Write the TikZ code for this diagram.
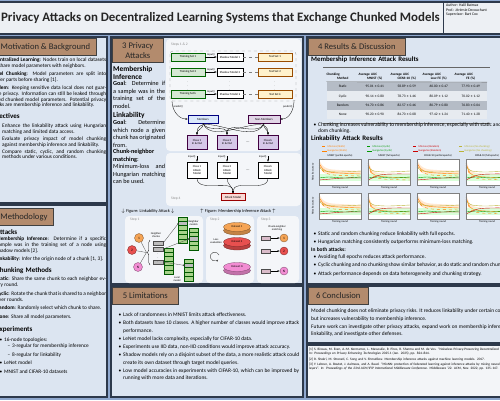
\documentclass[tikz,border=0pt]{standalone}
\usepackage{fontspec}
\setmainfont{Carlito}
\usepackage{enumitem}
\setlist[itemize]{leftmargin=7pt,labelsep=2pt,itemsep=0.8pt,topsep=0pt,parsep=0pt,partopsep=0pt,label=\textbullet}
\usetikzlibrary{matrix,positioning,arrows.meta,shapes.geometric,decorations.pathreplacing}

\definecolor{posterbg}{HTML}{8FA8CF}
\definecolor{panelfill}{HTML}{DCE5F1}
\definecolor{panelline}{HTML}{2D394B}
\definecolor{headbrown}{HTML}{B38B6D}
\definecolor{titlefill}{HTML}{EDF0F4}
\definecolor{figfill}{HTML}{F4F6F9}
\definecolor{trainfill}{HTML}{D5E8D4}
\definecolor{testfill}{HTML}{FFF2CC}
\definecolor{memfill}{HTML}{DAE8FC}
\definecolor{nonmemfill}{HTML}{E1D5E7}
\definecolor{classfill}{HTML}{D6C8E8}
\definecolor{attfill}{HTML}{FAD9D5}
\definecolor{nodeorange}{HTML}{F5A455}
\definecolor{nodered}{HTML}{E8504F}
\definecolor{nodepink}{HTML}{F28DD3}
\definecolor{chunkgreen}{HTML}{A8D38B}
\definecolor{chunkgrey}{HTML}{BDBDBD}
\definecolor{matchfill}{HTML}{D9BBC9}
\definecolor{rowgrey}{HTML}{B5BCC6}
\definecolor{rowlight}{HTML}{E7EBF0}
\definecolor{refill}{HTML}{F3F5F8}

\tikzset{
panel/.style={draw=panelline, fill=panelfill, line width=1.1pt},
header/.style={
  anchor=north west, draw=black!75, fill=headbrown, line width=0.6pt,
  minimum height=17pt, inner xsep=2pt, inner ysep=1pt, align=center,
  font=\fontsize{8.6}{9.6}\selectfont, text=black!85
  },
bodytext/.style={
  anchor=north west, inner sep=0pt, text width=#1, align=justify,
  font=\fontsize{5.3}{5.8}\selectfont
  },
bodytext/.default=117pt,
widetext/.style={
  anchor=north west, inner sep=0pt, text width=#1, align=justify,
  font=\fontsize{5.4}{7.4}\selectfont
  },
widetext/.default=205pt,
colbody/.style={
  anchor=north west, inner sep=0pt, text width=52pt, align=justify,
  font=\fontsize{6.2}{7.5}\selectfont
  },
subhead/.style={
  anchor=north west, inner sep=0pt, text width=#1, align=left,
  font=\bfseries\fontsize{7}{8}\selectfont
  },
subhead/.default=117pt,
tinytext/.style={inner sep=0.3pt, align=center, font=\fontsize{2.7}{3.1}\selectfont},
steplabel/.style={anchor=west, inner sep=0pt, text=black!45, font=\fontsize{3.6}{4}\selectfont},
figbox/.style={inner sep=0.4pt, align=center, font=\fontsize{3}{3.4}\selectfont, minimum height=8pt, line width=0.35pt},
trainset/.style={figbox, draw=green!40!black, fill=trainfill, minimum width=34pt},
testset/.style={figbox, draw=orange!60!black, fill=testfill, minimum width=34pt},
shadowbox/.style={figbox, draw=black, fill=white, minimum width=26pt},
membox/.style={figbox, draw=blue!50!black, fill=memfill, minimum width=30pt},
nonmembox/.style={figbox, draw=violet!50!black, fill=nonmemfill, minimum width=32pt},
classbox/.style={figbox, draw=violet!50!black, fill=classfill, minimum width=20pt, minimum height=14pt},
attbox/.style={figbox, draw=black, fill=white, minimum width=20pt, minimum height=16pt},
finalbox/.style={figbox, draw=red!60!black, fill=attfill, minimum width=24pt, minimum height=7pt},
nodecirc/.style={circle, draw=#1!55!black, fill=#1, minimum size=9pt, inner sep=0pt,
  line width=0.35pt, font=\fontsize{3.5}{4}\selectfont},
modcell/.style={draw=green!35!black, fill=#1, minimum width=9pt, minimum height=4.4pt,
  inner sep=0pt, line width=0.3pt},
modcell/.default=chunkgreen,
chunkbox/.style={draw=black!70, fill=chunkgrey, minimum width=10pt, minimum height=4pt,
  inner sep=0pt, line width=0.3pt},
matchbox/.style={draw=black!70, fill=matchfill, minimum width=9pt, minimum height=4pt,
  inner sep=0pt, line width=0.3pt},
restab/.style={
  matrix of nodes,
  nodes={inner sep=0pt, text width=32.4pt, align=center, minimum height=9.3pt,
    font=\fontsize{3.5}{4}\selectfont},
  column sep=-\pgflinewidth,
  row sep=0pt,
  row 1/.style={nodes={font=\bfseries\fontsize{3.4}{4}\selectfont, minimum height=11pt}},
  row 2/.style={nodes={fill=rowgrey}},
  row 3/.style={nodes={fill=rowlight}},
  row 4/.style={nodes={fill=rowgrey}},
  row 5/.style={nodes={fill=rowlight}}
  }
}

\begin{document}
\begin{tikzpicture}[x=1pt,y=-1pt,>={Latex[length=2.2pt,width=1.8pt]}]
\useasboundingbox (0,0) rectangle (500,400);
\clip (0,0) rectangle (500,400);
\fill[posterbg] (0,0) rectangle (500,400);

% title bar
\draw[panelline, fill=titlefill, line width=1.1pt] (-20,2) rectangle (520,34);
\draw[panelline, line width=0.8pt] (443,2) -- (443,34);
\node[anchor=east, inner sep=0pt, text=black!85, font=\bfseries\fontsize{12.9}{15}\selectfont] (title) at (440,18.5)
  {Privacy Attacks on Decentralized Learning Systems that Exchange Chunked Models};
\node[anchor=north west, inner sep=0pt, align=left, font=\fontsize{3.8}{4.4}\selectfont] (author) at (446,4)
  {Author: Halil Batmaz\\Prof.: Jérémie Decouchant\\Supervisor: Bart Cox};

% panels
\draw[panel] (-20,37) rectangle (107,203);
\draw[panel] (-20,205) rectangle (107,397);
\draw[panel] (111,37) rectangle (303,284);
\draw[panel] (111,286) rectangle (303,397);
\draw[panel] (307,37) rectangle (520,284);
\draw[panel] (307,286) rectangle (520,343);
\draw[panel, fill=refill] (307,345) rectangle (520,397);

% 1 motivation
\node[header, minimum width=108pt] (h1) at (-12,38) {1 Motivation \& Background};
\node[bodytext] (decl) at (-11,58)
  {\textbf{Decentralized Learning}: Nodes train on local datasets and share model parameters with neighbors.};
\node[bodytext, below=3pt of decl] (mchunk)
  {\textbf{Model Chunking}: Model parameters are split into smaller parts before sharing [1].};
\node[bodytext, below=3pt of mchunk] (prob)
  {\textbf{Problem}: Keeping sensitive data local does not guarantee privacy. Information can still be leaked through shared chunked model parameters. Potential privacy attacks are membership inference and linkability.};
\node[subhead, below=5pt of prob] (obj) {Objectives};
\node[bodytext, below=2pt of obj] (objlist)
  {\begin{itemize}[leftmargin=13pt,itemsep=1.2pt]
   \item Enhance the linkability attack using Hungarian matching and limited data access.
   \item Evaluate privacy impact of model chunking against membership inference and linkability.
   \item Compare static, cyclic, and random chunking methods under various conditions.
   \end{itemize}};

% 2 methodology
\node[header, minimum width=65pt] (h2) at (-12,208) {2 Methodology};
\node[subhead, text width=110pt] (attacks) at (-4,229) {Attacks};
\node[bodytext=110pt, font=\fontsize{5.3}{6.1}\selectfont, below=2.5pt of attacks] (mi)
  {\textbf{Membership Inference}: Determine if a specific sample was in the training set of a node using shadow models [2].};
\node[bodytext=110pt, font=\fontsize{5.3}{6.1}\selectfont, below=3pt of mi] (lk)
  {\textbf{Linkability}: Infer the origin node of a chunk [1, 3].};
\node[subhead=110pt, below=5pt of lk] (chm) {Chunking Methods};
\node[bodytext=110pt, font=\fontsize{5.3}{6.1}\selectfont, below=3pt of chm] (cst)
  {\textbf{Static}: Share the same chunk to each neighbor every round.};
\node[bodytext=110pt, font=\fontsize{5.3}{6.1}\selectfont, below=4pt of cst] (ccy)
  {\textbf{Cyclic}: Rotate the chunk that is shared to a neighbor over rounds.};
\node[bodytext=110pt, font=\fontsize{5.3}{6.1}\selectfont, below=4pt of ccy] (crd)
  {\textbf{Random}: Randomly select which chunk to share.};
\node[bodytext=110pt, font=\fontsize{5.3}{6.1}\selectfont, below=4pt of crd] (cno)
  {\textbf{None}: Share all model parameters.};
\node[subhead=110pt, below=7pt of cno] (exps) {Experiments};
\node[bodytext=110pt, below=2.5pt of exps] (explist)
  {\begin{itemize}[leftmargin=8pt,itemsep=2.8pt]
   \item 16-node topologies:
     \begin{itemize}[leftmargin=8pt,itemsep=2.8pt,label=\textendash]
     \item 3-regular for membership inference
     \item 8-regular for linkability
     \end{itemize}
   \item LeNet model
   \item MNIST and CIFAR-10 datasets
   \end{itemize}};

% 3 privacy attacks
\node[header, minimum width=51pt, minimum height=24pt] (h3) at (112,38) {3 Privacy\\Attacks};
\node[subhead=52pt, font=\bfseries\fontsize{7.4}{8.2}\selectfont] (mihead) at (113,66) {Membership\\Inference};
\node[colbody, below=1.5pt of mihead] (migoal)
  {\textbf{Goal}: Determine if a sample was in the training set of the model.};
\node[subhead=52pt, font=\bfseries\fontsize{7.4}{8.2}\selectfont, below=3.5pt of migoal] (lkhead) {Linkability};
\node[colbody, below=1.5pt of lkhead] (lkgoal)
  {\textbf{Goal}: Determine which node a given chunk has originated from.};
\node[colbody, below=1.5pt of lkgoal] (cnm)
  {\textbf{Chunk-neighbor matching}: Minimum-loss and Hungarian matching can be used.};

% membership inference figure
\fill[figfill, rounded corners=4pt] (166,39) rectangle (301,151);
\fill[figfill, rounded corners=4pt] (166,153) rectangle (301,206);
\node[steplabel] (st12) at (171,45) {Steps 1 \& 2};
\draw[dashed, black!45, line width=0.3pt, rounded corners=3pt] (170,51) rectangle (296,101);
\foreach \pr/\py/\lab in {1/57/1, 2/72/2, 3/94/k}{
  \node[trainset] (tr\pr) at (188,\py) {Training Set \lab};
  \node[shadowbox] (sh\pr) at (230,\py) {Shadow Model \lab};
  \node[testset] (te\pr) at (275,\py) {Test Set \lab};
  \draw[->, line width=0.3pt] (tr\pr) -- node[tinytext, above=1pt] (in\pr) {Input()} (sh\pr);
  \draw[dashed, black!50, line width=0.3pt] (sh\pr) -- (te\pr);
}
\foreach \px in {188,230,275}
  \node[tinytext, font=\fontsize{4}{4}\selectfont, text=black!50] (vd\px) at (\px,83) {$\vdots$};
\node[membox] (memb) at (203,119) {Members};
\node[nonmembox] (nonm) at (264,119) {Non-Members};
\coordinate (pl) at (172,101);
\coordinate (pr) at (294,101);
\node[tinytext, anchor=west] (predl) at (173,107) {predict()};
\node[tinytext, anchor=east] (predr) at (293,107) {predict()};
\draw[->, line width=0.3pt] (pl) to[out=-90, in=180] (memb.west);
\draw[->, line width=0.3pt] (pr) to[out=-90, in=0] (nonm.east);
\foreach \pc/\px/\lab in {1/197/1, 2/227/2, 3/268/k}{
  \node[classbox] (cl\pc) at (\px,142) {Class \lab\\In \& Out};
}
\foreach \pc in {1,2,3}{
  \draw[->, line width=0.3pt] (memb.south) to[out=-70, in=90] (cl\pc.north);
  \draw[->, line width=0.3pt] (nonm.south) to[out=-110, in=90] (cl\pc.north);
}
\node[tinytext, font=\fontsize{4}{4}\selectfont] (cldots) at (248,142) {\dots};
\foreach \pc/\px/\lab in {1/197/1, 2/227/2, 3/268/k}{
  \node[attbox] (am\pc) at (\px,170) {Class \lab\\Attack\\Model};
  \coordinate (ia\pc) at (\px,156);
  \node[tinytext, anchor=east] (il\pc) at (\px-1,157) {Input()};
  \draw[->, line width=0.3pt] (ia\pc) -- (am\pc);
}
\node[tinytext, font=\fontsize{4}{4}\selectfont] (amdots) at (248,170) {\dots};
\node[finalbox] (atk) at (233,197) {Attack Model};
\foreach \pc in {1,2,3}
  \draw[->, line width=0.3pt] (am\pc.south) to[out=-90, in=90] (atk.north);
\node[steplabel] (st4) at (171,199) {Step 4};

% captions
\node[inner sep=0pt, font=\fontsize{4.4}{5}\selectfont] (caplk) at (148,211)
  {$\downarrow$ Figure: Linkability Attack $\downarrow$};
\node[inner sep=0pt, font=\fontsize{4.4}{5}\selectfont] (capmi) at (238,211)
  {$\uparrow$ Figure: Membership Inference Attack $\uparrow$};

% linkability figure
\fill[figfill, rounded corners=4pt] (125,216) rectangle (203,283);
\fill[figfill, rounded corners=4pt] (206,216) rectangle (254,283);
\fill[figfill, rounded corners=4pt] (257,216) rectangle (299,283);
\node[steplabel] (st1) at (130,220) {Step 1};
\node[steplabel] (st2) at (210,220) {Step 2};
\node[steplabel] (st3) at (261,220) {Step 3};
\node[nodecirc=nodeorange] (ln1) at (139,238) {1};
\node[nodecirc=nodered] (ln2) at (132,250) {2};
\node[nodecirc=nodepink] (lnN) at (138,267) {N};
\coordinate (bracetip) at (146.5,252.5);
\draw[decorate, decoration={brace, amplitude=2.5pt}, line width=0.35pt] (150,265) -- (150,240);
\foreach \pn in {ln1,ln2,lnN}
  \draw[line width=0.3pt, black!70] (\pn) -- (bracetip);
\node[tinytext] (nclab) at (156,235) {Neighbor\\chunks};
\node[chunkbox] (ck1) at (158,243) {};
\node[chunkbox] (ck2) at (158,249) {};
\node[chunkbox] (ckN) at (158,262) {};
\node[tinytext, font=\fontsize{3}{3}\selectfont] (ckdots) at (158,255) {$\vdots$};
\foreach \k in {0,...,5}
  \node[modcell] (lm\k) at (169,250+4.4*\k) {};
\node[tinytext] (lmlab) at (177,279) {Local\\model};
\foreach \k/\f in {0/chunkgreen,1/chunkgrey,2/chunkgreen,3/chunkgreen,4/chunkgreen,5/chunkgreen}
  \node[modcell=\f] (na\k) at (183,219+4.4*\k) {};
\foreach \k/\f in {0/chunkgreen,1/chunkgreen,2/chunkgrey,3/chunkgreen,4/chunkgreen}
  \node[modcell=\f] (nb\k) at (194,230+4.4*\k) {};
\foreach \k/\f in {0/chunkgreen,1/chunkgrey,2/chunkgreen,3/chunkgreen,4/chunkgreen}
  \node[modcell=\f] (nc\k) at (189,261+4.4*\k) {};
\node[tinytext, anchor=west] (nmlab) at (188,223) {Neighbor\\models};
\draw[-{Circle[length=1.6pt]}, black!70, line width=0.3pt] (ck1.east) -- (na1.west);
\draw[-{Circle[length=1.6pt]}, black!70, line width=0.3pt] (ck2.east) -- (nb2.west);
\draw[-{Circle[length=1.6pt]}, black!70, line width=0.3pt] (ckN.east) -- (nc1.west);

\node[tinytext] (losslab) at (216,241) {Loss\\evaluation};
\draw[->, black!70, line width=0.4pt] (219,255) arc[start angle=20, end angle=320, radius=4.5pt];
\foreach \pd/\py/\clr/\lab in {1/227/nodeorange/1, 2/242/nodered/2, 3/267/nodepink/N}{
  \node[ellipse, minimum width=27pt, minimum height=9pt, inner sep=0pt, fill=\clr!80!black,
    draw=\clr!50!black, line width=0.3pt] (dsb\pd) at (237,\py+3.5) {};
  \fill[\clr!80!black] (223.6,\py) rectangle (250.4,\py+3.5);
  \node[ellipse, minimum width=27pt, minimum height=9pt, inner sep=0pt, fill=\clr,
    draw=\clr!50!black, line width=0.3pt, font=\fontsize{2.8}{3}\selectfont] (ds\pd) at (237,\py) {Dataset \lab};
}

\node[tinytext] (cnmlab) at (277,228) {Chunk-neighbor\\matching};
\foreach \pm/\py/\clr/\lab in {1/238/nodeorange/1, 2/251/nodered/2, 3/271/nodepink/N}{
  \node[matchbox] (mc\pm) at (266,\py) {};
  \node[nodecirc=\clr, minimum size=8pt] (mn\pm) at (284,\py) {\lab};
  \draw[->, line width=0.3pt] (mc\pm) -- (mn\pm);
}

% 4 results
\node[header, minimum width=97pt] (h4) at (308,38) {4 Results \& Discussion};
\node[subhead=190pt, font=\bfseries\fontsize{6.8}{7.5}\selectfont] (mires) at (311,57) {Membership Inference Attack Results};
\matrix[restab, anchor=north west] at (323,67) (miatab) {
  Chunking\newline Method & Average AUC\newline MNIST (\%) & Average AUC\newline CIFAR-10 (\%) & Average AUC\newline Low FE (\%) & Average AUC\newline FE (\%) \\
  Static & 95.01 ± 0.41 & 58.89 ± 0.59 & 60.00 ± 0.47 & 77.93 ± 0.49 \\
  Cyclic & 90.14 ± 0.80 & 78.73 ± 1.46 & 80.09 ± 1.12 & 70.02 ± 1.12 \\
  Random & 94.70 ± 0.86 & 82.57 ± 0.46 & 80.79 ± 0.80 & 76.83 ± 0.04 \\
  None & 90.20 ± 0.90 & 84.70 ± 0.08 & 97.42 ± 1.24 & 71.40 ± 1.28 \\
};
\draw[black!60, line width=0.4pt] (miatab.north west) -- (miatab.north east);
\draw[black!60, line width=0.4pt] (miatab-1-1.south west) -- (miatab-1-5.south east);
\draw[black!60, line width=0.4pt] (miatab.south west) -- (miatab.south east);
\node[widetext=200pt, font=\fontsize{5.4}{6.8}\selectfont] (mibul) at (311,119)
  {\begin{itemize}
   \item Chunking increases vulnerability to membership inference, especially with static and random chunking.
   \end{itemize}};
\node[subhead=190pt, font=\bfseries\fontsize{6.8}{7.5}\selectfont] (lkres) at (311,136) {Linkability Attack Results};

% legend
\foreach \pi/\px/\clr/\meth in {0/322/orange/Static, 1/367/green!60!black/Cyclic, 2/413/red!80!black/Random, 3/459/yellow!70!black/No chunking}{
  \draw[\clr, dashed, line width=0.4pt] (\px,146.5) -- (\px+5,146.5) node[tinytext, anchor=west] (lgm\pi) {Min-loss (\meth)};
  \draw[\clr, line width=0.4pt] (\px,151) -- (\px+5,151) node[tinytext, anchor=west] (lgh\pi) {Hungarian (\meth)};
}

% plots
\foreach \pc/\px/\ttl in {0/319/MNIST (partial epochs), 1/368/MNIST (full epochs), 2/417/CIFAR-10 (partial epochs), 3/466/CIFAR-10 (full epochs)}{
  \node[tinytext] (ptitle\pc) at (\px+21,156) {\ttl};
  \pgfmathsetmacro\dd{4*mod(\pc,2)}
  \foreach \pr/\py in {0/159, 1/193}{
    \begin{scope}[shift={(\px,\py)}]
      \fill[white] (0,0) rectangle (42,26);
      \fill[orange!18] plot[smooth] coordinates {(0,1) (4,7+\dd) (10,10+\dd) (20,11+\dd) (42,12+\dd)}
        -- plot[smooth] coordinates {(42,18+\dd) (20,17+\dd) (10,16+\dd) (4,13+\dd) (0,7)} -- cycle;
      \fill[green!15] (0,15) rectangle (42,22);
      \draw[orange, line width=0.4pt] plot[smooth] coordinates {(0,4) (4,10+\dd) (10,13+\dd) (20,14+\dd) (42,15+\dd)};
      \draw[orange, dashed, line width=0.4pt] plot[smooth] coordinates {(0,6) (5,13+\dd) (15,16+\dd) (42,17+\dd)};
      \draw[yellow!70!black, line width=0.4pt] plot[smooth] coordinates {(0,8) (6,12) (20,13) (42,12)};
      \draw[green!60!black, line width=0.4pt] plot[smooth] coordinates {(0,19) (10,18) (25,19) (42,18)};
      \draw[red!80!black, line width=0.4pt] plot[smooth] coordinates {(0,21) (12,20-\dd) (25,19-\dd) (42,19-\dd)};
      \draw[black!50, line width=0.3pt] (0,0) rectangle (42,26);
    \end{scope}
    \node[tinytext] (xlab\pc\pr) at (\px+21,\py+29) {Training round};
  }
}
\node[tinytext, rotate=90] (ylab0) at (313,172) {Attack accuracy};
\node[tinytext, rotate=90] (ylab1) at (313,206) {Attack accuracy};

\node[widetext=200pt] (lkbul) at (311,228)
  {\begin{itemize}
   \item Static and random chunking reduce linkability with full epochs.
   \item Hungarian matching consistently outperforms minimum-loss matching.
   \end{itemize}
   \textbf{In both attacks:}
   \begin{itemize}
   \item Avoiding full epochs reduces attack performance.
   \item Cyclic chunking and no chunking show similar behavior, as do static and random chunking.
   \item Attack performance depends on data heterogeneity and chunking strategy.
   \end{itemize}};

% 5 limitations
\node[header, minimum width=66pt] (h5) at (112,287) {5 Limitations};
\node[widetext=183pt] (limlist) at (116,309)
  {\begin{itemize}
   \item Lack of randomness in MNIST limits attack effectiveness.
   \item Both datasets have 10 classes. A higher number of classes would improve attack performance.
   \item LeNet model lacks complexity, especially for CIFAR-10 data.
   \item Experiments use IID data, non-IID conditions would improve attack accuracy.
   \item Shadow models rely on a disjoint subset of the data, a more realistic attack could create its own dataset through target model queries.
   \item Low model accuracies in experiments with CIFAR-10, which can be improved by running with more data and iterations.
   \end{itemize}};

% 6 conclusion
\node[header, minimum width=60pt] (h6) at (308,287) {6 Conclusion};
\node[widetext=207pt, font=\fontsize{5.4}{7.2}\selectfont] (concl1) at (311,309)
  {Model chunking does not eliminate privacy risks. It reduces linkability under certain conditions but increases vulnerability to membership inference.};
\node[widetext=207pt, font=\fontsize{5.4}{7.2}\selectfont, below=3pt of concl1] (concl2)
  {Future work can investigate other privacy attacks, expand work on membership inference and linkability, and investigate other defenses.};

% references
\node[anchor=north west, inner sep=0pt, text width=206pt, align=left, font=\fontsize{3.4}{4}\selectfont] (refs) at (309,348)
  {[1] S. Biswas, M. Even, A.-M. Kermarrec, L. Massoulie, R. Pires, R. Sharma and M. de Vos. ``Noiseless Privacy-Preserving Decentralized Learning''. In: \textit{Proceedings on Privacy Enhancing Technologies} 2025.1 (Jan. 2025), pp. 824--844.\\[1.5pt]
   [2] R. Shokri, M. Stronati, C. Song and V. Shmatikov. Membership inference attacks against machine learning models. 2017.\\[1.5pt]
   [3] Y. Lebrun, A. Boutet, J. Aalmoes, and A. Baud. ``MixNN: protection of federated learning against inference attacks by mixing neural network layers''. In: \textit{Proceedings of the 23rd ACM/IFIP International Middleware Conference}. Middleware '22. ACM, Nov. 2022, pp. 135--147.};

\end{tikzpicture}
\end{document}
